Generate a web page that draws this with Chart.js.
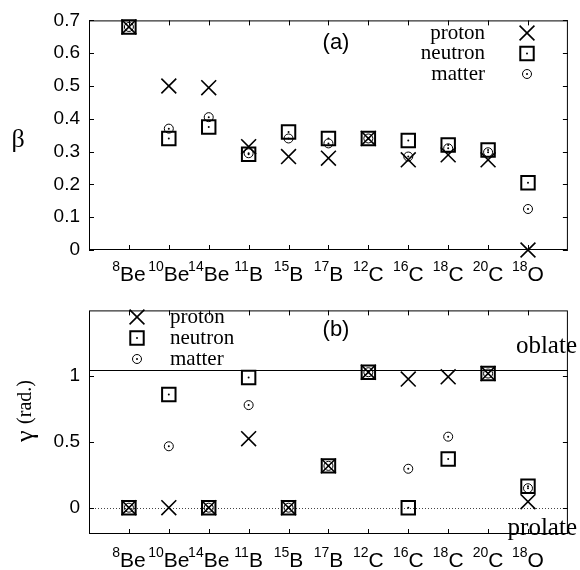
<!DOCTYPE html>
<html>
<head>
<meta charset="utf-8">
<script src="https://cdn.jsdelivr.net/npm/chart.js@4.4.0/dist/chart.umd.min.js"></script>
<style>
  body { margin: 0; background: #fff; }
  #wrap { position: relative; width: 580px; height: 570px; }
  canvas { position: absolute; left: 0; }
</style>
</head>
<body>
<div id="wrap">
  <canvas id="betaChart" width="580" height="290" style="top:0"></canvas>
  <canvas id="gammaChart" width="580" height="280" style="top:290px"></canvas>
</div>
<script>
// nuclei on the x axis: mass number (superscript) + element
const massNumbers = ['8', '10', '14', '11', '15', '17', '12', '16', '18', '20', '18'];
const elements = ['Be', 'Be', 'Be', 'B', 'B', 'B', 'C', 'C', 'C', 'C', 'O'];

// panel (a): deformation beta
const betaProton  = [0.68, 0.50, 0.495, 0.315, 0.285, 0.28, 0.34, 0.275, 0.29, 0.275, 0.0];
const betaNeutron = [0.68, 0.34, 0.375, 0.292, 0.36, 0.34, 0.34, 0.334, 0.32, 0.305, 0.205];
const betaMatter  = [0.68, 0.37, 0.405, 0.295, 0.34, 0.325, 0.34, 0.285, 0.31, 0.298, 0.125];
const betaTicks = [0, 0.1, 0.2, 0.3, 0.4, 0.5, 0.6, 0.7];

// panel (b): gamma in radians
const gammaProton  = [0, 0, 0, 0.525, 0, 0.318, 1.03, 0.978, 0.995, 1.02, 0.046];
const gammaNeutron = [0, 0.86, 0, 0.99, 0, 0.318, 1.03, 0, 0.37, 1.02, 0.163];
const gammaMatter  = [0, 0.467, 0, 0.78, 0, 0.318, 1.03, 0.296, 0.54, 1.02, 0.148];
const gammaTicks = [0, 0.5, 1];
const oblateGamma = Math.PI / 3;

const seriesNames = ['proton', 'neutron', 'matter'];

const SANS = '"Liberation Sans", Arial, sans-serif';
const SERIF = '"Liberation Serif", "Times New Roman", serif';

// marker styles (same for both panels and the legends)
const markers = {
    proton:  { pointStyle: 'crossRot', radius: 10.5, borderWidth: 1.6 },
    neutron: { pointStyle: 'rect', radius: 9.5, borderWidth: 2 },
    matter:  { pointStyle: 'circle', radius: 4.5, borderWidth: 1 }
};

const toPoints = vals => vals.map((v, i) => ({ x: i, y: v }));

function makeDatasets(proton, neutron, matter) {
    const vals = { proton, neutron, matter };
    const sets = seriesNames.map((name, k) => ({
        label: name,
        data: toPoints(vals[name]),
        pointStyle: markers[name].pointStyle,
        pointRadius: markers[name].radius,
        pointBorderWidth: markers[name].borderWidth,
        pointBorderColor: '#000',
        pointBackgroundColor: 'rgba(0,0,0,0)',
        clip: false,
        order: k
    }));
    // little dot in the middle of squares and circles
    ['neutron', 'matter'].forEach(name => {
        sets.push({
            label: name + ' dot',
            data: toPoints(vals[name]),
            pointStyle: 'circle',
            pointRadius: 1,
            pointBorderWidth: 0,
            pointBackgroundColor: '#000',
            clip: false,
            order: -1
        });
    });
    return sets;
}

function drawMarker(ctx, name, x, y) {
    const m = markers[name];
    ctx.save();
    ctx.strokeStyle = '#000';
    ctx.fillStyle = 'rgba(0,0,0,0)';
    ctx.lineWidth = m.borderWidth;
    Chart.helpers.drawPoint(ctx, { pointStyle: m.pointStyle, radius: m.radius, borderWidth: m.borderWidth, rotation: 0 }, x, y);
    if (name !== 'proton') {
        ctx.fillStyle = '#000';
        ctx.beginPath();
        ctx.arc(x, y, 1, 0, Math.PI * 2);
        ctx.fill();
    }
    ctx.restore();
}

// frame with inward ticks on all four sides
function drawFrame(chart, yTicks) {
    const ctx = chart.ctx, a = chart.chartArea;
    const xs = chart.scales.x, ys = chart.scales.y;
    ctx.save();
    ctx.strokeStyle = '#000';
    ctx.lineWidth = 1;
    ctx.strokeRect(a.left + 0.5, a.top + 0.5, a.right - a.left - 1, a.bottom - a.top - 1);
    ctx.beginPath();
    massNumbers.forEach((m, i) => {
        const px = Math.round(xs.getPixelForValue(i)) + 0.5;
        ctx.moveTo(px, a.bottom); ctx.lineTo(px, a.bottom - 5);
        ctx.moveTo(px, a.top); ctx.lineTo(px, a.top + 5);
    });
    yTicks.forEach(v => {
        const py = Math.round(ys.getPixelForValue(v)) + 0.5;
        ctx.moveTo(a.left, py); ctx.lineTo(a.left + 5, py);
        ctx.moveTo(a.right, py); ctx.lineTo(a.right - 5, py);
    });
    ctx.stroke();
    ctx.restore();
}

function drawNucleusLabels(chart, baseline) {
    const ctx = chart.ctx, xs = chart.scales.x;
    ctx.save();
    ctx.fillStyle = '#000';
    ctx.textAlign = 'left';
    ctx.textBaseline = 'alphabetic';
    massNumbers.forEach((mass, i) => {
        ctx.font = '14px ' + SANS;
        const wm = ctx.measureText(mass).width;
        ctx.font = '21px ' + SANS;
        const we = ctx.measureText(elements[i]).width;
        const x0 = xs.getPixelForValue(i) - (wm + we) / 2;
        ctx.font = '14px ' + SANS;
        ctx.fillText(mass, x0, baseline - 10);
        ctx.font = '21px ' + SANS;
        ctx.fillText(elements[i], x0 + wm, baseline);
    });
    ctx.restore();
}

function axisScales(yMin, yMax, yTicks, yWidth, xHeight) {
    return {
        x: {
            type: 'linear', min: -1, max: 11,
            grid: { display: false, drawTicks: false },
            border: { display: false },
            ticks: { display: false },
            afterFit: s => { s.height = xHeight; }
        },
        y: {
            type: 'linear', min: yMin, max: yMax,
            grid: { display: false, drawTicks: false },
            border: { display: false },
            afterBuildTicks: s => { s.ticks = yTicks.map(v => ({ value: v })); },
            ticks: {
                color: '#000', padding: 9,
                font: { family: SANS, size: 19 },
                callback: v => String(Math.round(v * 10) / 10)
            },
            afterFit: s => { s.width = yWidth; }
        }
    };
}

// ---- panel (a) ----
new Chart(document.getElementById('betaChart'), {
    type: 'scatter',
    data: { datasets: makeDatasets(betaProton, betaNeutron, betaMatter) },
    options: {
        responsive: false, animation: false, events: [],
        layout: { padding: { top: 16, right: 1, left: 0, bottom: 0 } },
        plugins: { legend: { display: false }, tooltip: { enabled: false } },
        scales: axisScales(0, 0.7, betaTicks, 89, 40)
    },
    plugins: [{
        id: 'panelA',
        beforeDatasetsDraw(chart) { drawFrame(chart, betaTicks); },
        afterDraw(chart) {
            const ctx = chart.ctx;
            drawNucleusLabels(chart, 281);
            ctx.save();
            ctx.fillStyle = '#000';
            ctx.font = '26px ' + SERIF;
            ctx.textAlign = 'center'; ctx.textBaseline = 'middle';
            ctx.fillText('β', 18, 140);
            ctx.font = '22px ' + SANS;
            ctx.fillText('(a)', 336, 43);
            // legend: text right aligned, marker on the right
            ctx.font = '21px ' + SERIF;
            ctx.textAlign = 'right';
            seriesNames.forEach((name, k) => {
                const y = 33 + k * 20.5;
                ctx.fillText(name, 485, y);
                drawMarker(ctx, name, 527, y);
            });
            ctx.restore();
        }
    }]
});

// ---- panel (b) ----
new Chart(document.getElementById('gammaChart'), {
    type: 'scatter',
    data: { datasets: makeDatasets(gammaProton, gammaNeutron, gammaMatter) },
    options: {
        responsive: false, animation: false, events: [],
        layout: { padding: { top: 11, right: 1, left: 0, bottom: 0 } },
        plugins: { legend: { display: false }, tooltip: { enabled: false } },
        scales: axisScales(-0.2, 1.5, gammaTicks, 89, 36)
    },
    plugins: [{
        id: 'panelB',
        beforeDatasetsDraw(chart) {
            const ctx = chart.ctx, a = chart.chartArea, ys = chart.scales.y;
            ctx.save();
            ctx.strokeStyle = '#000';
            ctx.lineWidth = 1;
            const yOb = Math.round(ys.getPixelForValue(oblateGamma)) + 0.5;
            ctx.beginPath(); ctx.moveTo(a.left, yOb); ctx.lineTo(a.right, yOb); ctx.stroke();
            ctx.strokeStyle = '#444';
            ctx.setLineDash([1, 2]);
            const y0 = Math.round(ys.getPixelForValue(0)) + 0.5;
            ctx.beginPath(); ctx.moveTo(a.left, y0); ctx.lineTo(a.right, y0); ctx.stroke();
            ctx.restore();
            drawFrame(chart, gammaTicks);
        },
        afterDraw(chart) {
            const ctx = chart.ctx;
            drawNucleusLabels(chart, 277);
            ctx.save();
            ctx.fillStyle = '#000';
            // y axis title, rotated
            ctx.translate(26, 121);
            ctx.rotate(-Math.PI / 2);
            ctx.textBaseline = 'middle';
            ctx.font = '26px ' + SERIF;
            const wg = ctx.measureText('γ ').width;
            ctx.font = '20px ' + SERIF;
            const wr = ctx.measureText('(rad.)').width;
            ctx.textAlign = 'left';
            ctx.font = '26px ' + SERIF;
            ctx.fillText('γ', -(wg + wr) / 2, 0);
            ctx.font = '20px ' + SERIF;
            ctx.fillText('(rad.)', -(wg + wr) / 2 + wg, 0);
            ctx.restore();

            ctx.save();
            ctx.fillStyle = '#000';
            ctx.textAlign = 'center'; ctx.textBaseline = 'middle';
            ctx.font = '22px ' + SANS;
            ctx.fillText('(b)', 336, 40);
            // oblate / prolate markers
            ctx.font = '25px ' + SERIF;
            ctx.textAlign = 'right'; ctx.textBaseline = 'alphabetic';
            ctx.fillText('oblate', 577, 63);
            ctx.fillText('prolate', 577, 245);
            // legend: marker on the left, text after it
            ctx.font = '21px ' + SERIF;
            ctx.textAlign = 'left'; ctx.textBaseline = 'middle';
            seriesNames.forEach((name, k) => {
                const y = 27 + k * 21;
                drawMarker(ctx, name, 137, y);
                ctx.fillText(name, 170, y);
            });
            ctx.restore();
        }
    }]
});
</script>
</body>
</html>
